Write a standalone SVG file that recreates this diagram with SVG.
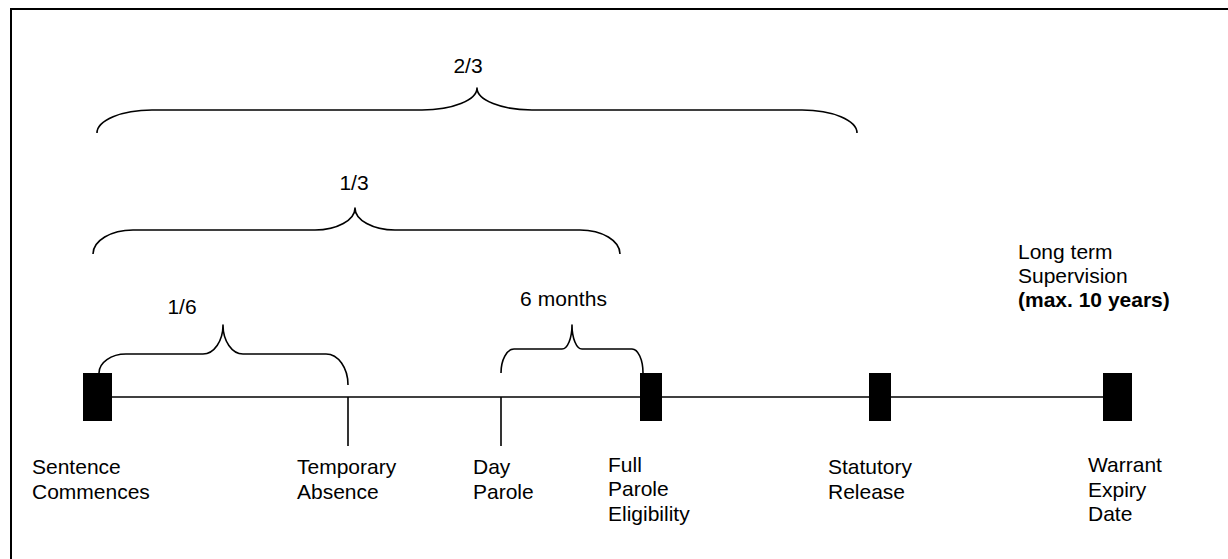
<svg xmlns="http://www.w3.org/2000/svg" width="1228" height="559" viewBox="0 0 1228 559">
  <style>
    .frame { fill: none; stroke: #000; stroke-width: 2; }
    .axis { stroke: #000; stroke-width: 1.6; fill: none; }
    .tick { stroke: #000; stroke-width: 1.6; fill: none; }
    .mark { fill: #000; stroke: none; }
    .brace { fill: none; stroke: #000; stroke-width: 1.6; stroke-linejoin: round; }
    text { font-family: "Liberation Sans", Arial, sans-serif; font-size: 21px; fill: #000; }
    .frac { font-size: 21px; text-anchor: middle; }
    .bold { font-weight: bold; }
  </style>
  <rect width="1228" height="559" fill="#fff"/>
  <!-- outer frame, running off the right and bottom edges -->
  <rect class="frame" x="11" y="9" width="1240" height="580"/>

  <!-- connectors: the time axis -->
  <g id="connectors">
    <line class="axis" x1="112" y1="397" x2="1103" y2="397"/>
  </g>

  <!-- events along the axis -->
  <g id="sentence-commences">
    <rect class="mark" x="83" y="373" width="29" height="48"/>
    <text x="32" y="474">Sentence</text>
    <text x="32" y="499">Commences</text>
  </g>
  <g id="temporary-absence">
    <line class="tick" x1="348" y1="397" x2="348" y2="446"/>
    <text x="297" y="474">Temporary</text>
    <text x="297" y="499">Absence</text>
  </g>
  <g id="day-parole">
    <line class="tick" x1="501" y1="397" x2="501" y2="446"/>
    <text x="473" y="474">Day</text>
    <text x="473" y="499">Parole</text>
  </g>
  <g id="full-parole-eligibility">
    <rect class="mark" x="640" y="373" width="22" height="48"/>
    <text x="608" y="472">Full</text>
    <text x="608" y="496">Parole</text>
    <text x="608" y="521">Eligibility</text>
  </g>
  <g id="statutory-release">
    <rect class="mark" x="869" y="373" width="22" height="48"/>
    <text x="828" y="474">Statutory</text>
    <text x="828" y="499">Release</text>
  </g>
  <g id="warrant-expiry-date">
    <rect class="mark" x="1103" y="373" width="29" height="48"/>
    <text x="1088" y="472">Warrant</text>
    <text x="1088" y="497">Expiry</text>
    <text x="1088" y="521">Date</text>
  </g>
  <g id="long-term-supervision">
    <text x="1018" y="259">Long term</text>
    <text x="1018" y="283">Supervision</text>
    <text class="bold" x="1018" y="307">(max. 10 years)</text>
  </g>

  <!-- spans marked with curly braces -->
  <g id="span-two-thirds">
    <path class="brace" d="M97 133 A55 23 0 0 1 152 110 L422 110 A55 22 0 0 0 477 88 A55 22 0 0 0 532 110 L802 110 A55 23 0 0 1 857 133"/>
    <text class="frac" x="468" y="73">2/3</text>
  </g>
  <g id="span-one-third">
    <path class="brace" d="M93 254 A40 24 0 0 1 133 230 L315 230 A40 22 0 0 0 355 208 A40 22 0 0 0 395 230 L580 230 A40 24 0 0 1 620 254"/>
    <text class="frac" x="354" y="190">1/3</text>
  </g>
  <g id="span-one-sixth">
    <path class="brace" d="M99 373 A27 19 0 0 1 126 354 L203 354 A20 29 0 0 0 223 325 A20 29 0 0 0 243 354 L326 354 A22 31 0 0 1 348 385"/>
    <text class="frac" x="182" y="314">1/6</text>
  </g>
  <g id="span-six-months">
    <path class="brace" d="M501 373 A13 24 0 0 1 514 349 L562 349 A10 24 0 0 0 572 325 A10 24 0 0 0 582 349 L632 349 A11 24 0 0 1 643 373"/>
    <text x="520" y="306" font-size="19" textLength="87" lengthAdjust="spacing">6 months</text>
  </g>
</svg>
